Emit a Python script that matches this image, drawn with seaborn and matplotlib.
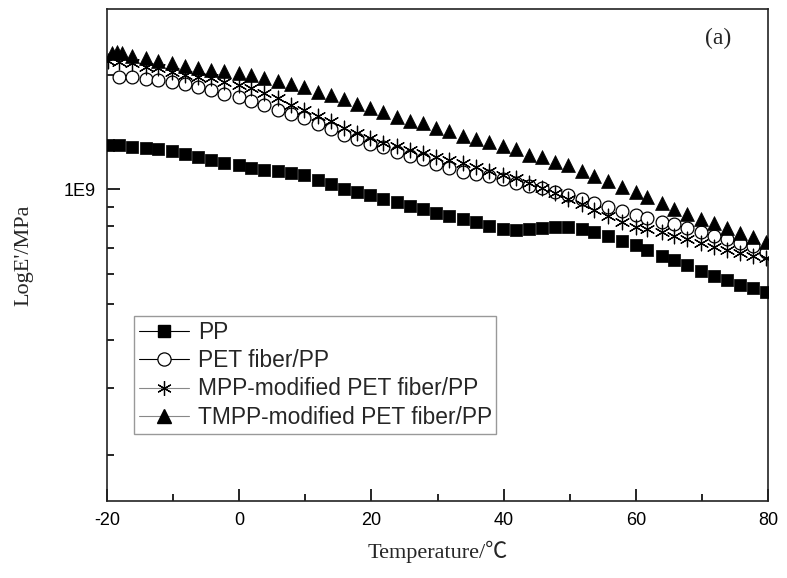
import numpy as np
import matplotlib
matplotlib.use("Agg")
import matplotlib.pyplot as plt
from matplotlib.lines import Line2D
from matplotlib.ticker import LogLocator, FuncFormatter, MultipleLocator, NullFormatter
import seaborn as sns

# temperature (deg C)
temp = [-19.9, -18.2, -16.2, -14.1, -12.3, -10.2, -8.2, -6.2, -4.3, -2.3,
        0.0, 1.8, 3.8, 5.9, 7.8, 9.8, 11.9, 13.9, 15.9, 17.8,
        19.8, 21.8, 23.9, 25.8, 27.8, 29.8, 31.7, 33.9, 35.8, 37.8,
        39.9, 41.9, 43.8, 45.8, 47.8, 49.7, 51.9, 53.7, 55.8, 57.9,
        60.0, 61.7, 64.0, 65.8, 67.8, 69.9, 71.8, 73.8, 75.8, 77.7, 79.7]
temp_tmpp = [-19.2, -18.5, -17.7, -16.2, -14.1, -12.3, -10.2, -8.2, -6.2, -4.3, -2.3,
             0.0, 1.8, 3.8, 5.9, 7.8, 9.8, 11.9, 13.9, 15.9, 17.8,
             19.8, 21.8, 23.9, 25.8, 27.8, 29.8, 31.7, 33.9, 35.8, 37.8,
             39.9, 41.9, 43.8, 45.8, 47.8, 49.7, 51.9, 53.7, 55.8, 57.9,
             60.0, 61.7, 64.0, 65.8, 67.8, 69.9, 71.8, 73.8, 75.8, 77.7, 79.7]

# storage modulus, in units of 1E9
pp = [1.305, 1.305, 1.292, 1.287, 1.280, 1.261, 1.236, 1.216, 1.197, 1.176,
      1.157, 1.141, 1.127, 1.117, 1.106, 1.088, 1.060, 1.031, 1.000, 0.982,
      0.964, 0.941, 0.924, 0.902, 0.886, 0.865, 0.849, 0.834, 0.819, 0.799,
      0.785, 0.780, 0.785, 0.790, 0.794, 0.794, 0.785, 0.771, 0.752, 0.730,
      0.712, 0.691, 0.666, 0.650, 0.631, 0.608, 0.590, 0.576, 0.561, 0.549, 0.536]
pet = [np.nan, 1.971, 1.971, 1.947, 1.936, 1.912, 1.889, 1.855, 1.822, 1.778,
       1.746, 1.704, 1.663, 1.614, 1.575, 1.537, 1.483, 1.438, 1.387, 1.354,
       1.313, 1.290, 1.251, 1.222, 1.199, 1.164, 1.136, 1.109, 1.095, 1.082,
       1.062, 1.037, 1.018, 1.006, 0.982, 0.964, 0.941, 0.919, 0.897, 0.875,
       0.854, 0.839, 0.819, 0.809, 0.790, 0.771, 0.752, 0.739, 0.721, 0.708, 0.683]
mpp = [2.172, 2.159, 2.146, 2.095, 2.082, 2.032, 1.995, 1.971, 1.959, 1.912,
       1.878, 1.844, 1.789, 1.735, 1.663, 1.614, 1.556, 1.510, 1.447, 1.404,
       1.362, 1.321, 1.298, 1.267, 1.244, 1.214, 1.192, 1.170, 1.143, 1.115,
       1.088, 1.069, 1.037, 1.006, 0.976, 0.941, 0.913, 0.880, 0.849, 0.819,
       0.794, 0.785, 0.771, 0.752, 0.739, 0.721, 0.704, 0.691, 0.679, 0.666, 0.658]
tmpp = [2.279, 2.293, 2.279, 2.239, 2.212, 2.172, 2.146, 2.107, 2.082, 2.057,
        2.044, 2.020, 1.995, 1.959, 1.924, 1.889, 1.855, 1.800, 1.767, 1.725,
        1.673, 1.633, 1.594, 1.547, 1.510, 1.492, 1.447, 1.421, 1.379, 1.354,
        1.329, 1.298, 1.274, 1.229, 1.214, 1.178, 1.157, 1.115, 1.082, 1.050,
        1.012, 0.982, 0.953, 0.919, 0.886, 0.860, 0.834, 0.814, 0.790, 0.766, 0.748, 0.725]

labels = ["PP", "PET fiber/PP", "MPP-modified PET fiber/PP", "TMPP-modified PET fiber/PP"]

sns.set_theme(style="ticks")
plt.rcParams['font.family'] = ['Liberation Sans', 'DejaVu Sans']
plt.rcParams['axes.unicode_minus'] = False

fig = plt.figure(figsize=(7.87, 5.78), dpi=100)
ax = fig.add_axes([0.136, 0.133, 0.840, 0.851])

star = (6, 2, 0)
sns.scatterplot(x=temp, y=np.array(pp) * 1e9, marker="s", s=72, color="black",
                edgecolor="black", linewidth=0.5, ax=ax, zorder=3)
sns.scatterplot(x=temp, y=np.array(pet) * 1e9, marker="o", s=85, facecolor="white",
                edgecolor="black", linewidth=0.9, ax=ax, zorder=3)
sns.scatterplot(x=temp, y=np.array(mpp) * 1e9, marker=star, s=110, color="black",
                edgecolor="#333333", linewidth=0.9, ax=ax, zorder=4)
sns.scatterplot(x=temp_tmpp, y=np.array(tmpp) * 1e9, marker="^", s=100, color="black",
                edgecolor="black", linewidth=0.5, ax=ax, zorder=5)

ax.set_yscale("log")
ax.set_xlim(-20, 80)
ax.set_ylim(1.51e8, 2.98e9)

ax.xaxis.set_major_locator(MultipleLocator(20))
ax.xaxis.set_minor_locator(MultipleLocator(10))
ax.yaxis.set_major_locator(LogLocator(base=10, numticks=10))
ax.yaxis.set_minor_locator(LogLocator(base=10, subs=np.arange(2, 10), numticks=20))
ax.yaxis.set_major_formatter(FuncFormatter(lambda v, p: "1E%d" % round(np.log10(v))))
ax.yaxis.set_minor_formatter(NullFormatter())

ax.tick_params(which="both", direction="in", top=False, right=False, colors="black", labelsize=13)
ax.tick_params(which="major", length=9, width=1.2, pad=8)
ax.tick_params(which="minor", length=5, width=1.2)
for sp in ax.spines.values():
    sp.set_color("#222222")
    sp.set_linewidth(1.2)

serif = ['Liberation Serif', 'Noto Sans CJK SC']
ax.set_xlabel("Temperature/℃", fontsize=16, family=serif, labelpad=8)
ax.set_ylabel("LogE'/MPa", fontsize=16, family=serif, labelpad=22)
ax.text(0.925, 0.94, "(a)", transform=ax.transAxes, fontsize=17,
        family=serif, ha="center", va="center")

handles = [
    Line2D([], [], color="black", lw=0.8, marker="s", ms=8.5, mfc="black", mec="black"),
    Line2D([], [], color="black", lw=0.8, marker="o", ms=9.5, mfc="white", mec="black", mew=0.9),
    Line2D([], [], color="#888888", lw=0.8, marker=star, ms=10.5, mec="black", mew=0.9),
    Line2D([], [], color="#888888", lw=0.8, marker="^", ms=10.5, mfc="black", mec="black"),
]
leg = ax.legend(handles, labels, loc="upper left", bbox_to_anchor=(134 / 787, 1 - 316 / 578),
                bbox_transform=fig.transFigure, fontsize=16.4, frameon=True, fancybox=False,
                borderpad=0.2, handlelength=2.2, handletextpad=0.4, labelspacing=0.24,
                borderaxespad=0)
leg.get_frame().set_edgecolor("#808080")
leg.get_frame().set_linewidth(1.0)

fig.savefig("out.png", dpi=100, facecolor="white")
plt.close(fig)
